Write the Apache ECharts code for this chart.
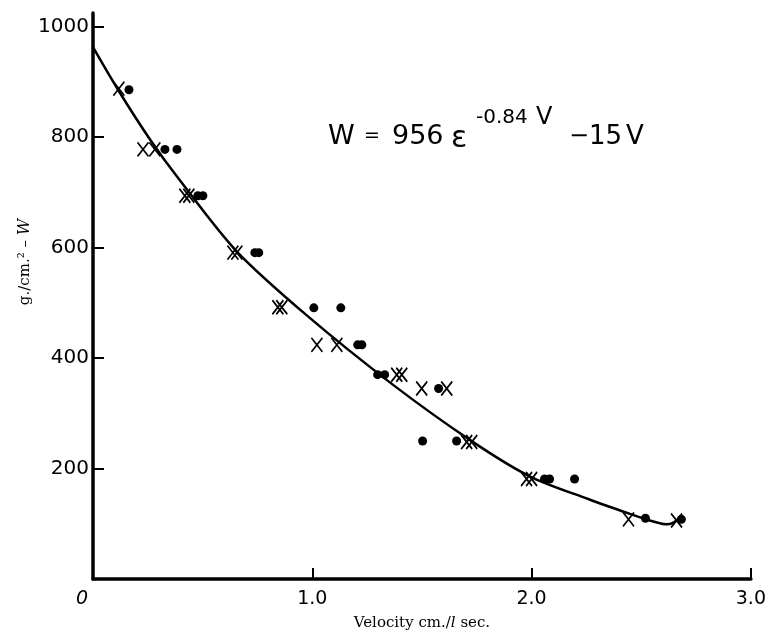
<!DOCTYPE html>
<html><head><meta charset="utf-8">
<script src="https://cdn.jsdelivr.net/npm/echarts@6/dist/echarts.min.js"></script>
<style>html,body{margin:0;padding:0;background:#fff}#c{width:769px;height:636px}</style>
</head><body><div id="c"></div>
<script>
// Crosses (x)
const crossV = [0.118,0.228,0.282,0.419,0.437,0.638,0.656,0.843,0.861,1.021,1.112,1.385,1.408,1.499,1.613,1.704,1.727,1.977,2.000,2.442,2.661];
const crossW = [888,778,778,694,694,591,591,492,492,424,424,370,370,345,345,248,248,181,181,108,106];
// Dots
const dotV = [0.164,0.328,0.383,0.478,0.501,0.738,0.756,1.007,1.130,1.207,1.226,1.298,1.330,1.576,1.503,1.658,2.059,2.082,2.196,2.519,2.683];
const dotW = [886,778,778,694,694,591,591,491,491,424,424,370,370,345,250,250,181,181,181,110,108];
// Fitted curve as drawn
const curveV = [0,0.114,0.260,0.396,0.656,0.979,1.367,1.718,1.991,2.264,2.433,2.538,2.615,2.642,2.665];
const curveW = [963,886,796,722,593,476,352,252,186,144,120,106,99,101,108];
// Axis ticks
const xLabelValues = [0,1,2,3];
const xTickValues = [1,2,3];
const yTickValues = [200,400,600,800,1000];

const zip = (a,b)=>a.map((v,i)=>[v,b[i]]);
const chart = echarts.init(document.getElementById('c'));
const numFont = 'DejaVu Sans';
const t = (text,x,y,size,extra)=>Object.assign({type:'text',x:x,y:y,style:{text:text,fontFamily:numFont,fontSize:size,fill:'#000',verticalAlign:'middle'}},extra||{});
chart.setOption({
  animation:false,
  backgroundColor:'#fff',
  grid:{left:93,right:18,top:13,bottom:53,containLabel:false},
  xAxis:{
    type:'value',min:0,max:3,interval:1,
    axisLine:{lineStyle:{color:'#000',width:3.5}},
    axisTick:{inside:true,length:11,lineStyle:{color:'#000',width:2},customValues:xTickValues},
    axisLabel:{customValues:xLabelValues,color:'#000',fontFamily:numFont,fontSize:19,margin:11,
      formatter:v=>v===0?'{z|0}':v.toFixed(1),
      rich:{z:{fontFamily:numFont,fontSize:19,fontStyle:'italic',padding:[0,22,0,0]}}},
    splitLine:{show:false},
    name:'Velocity cm./{i|l} sec.',nameLocation:'middle',nameGap:37,
    nameTextStyle:{color:'#000',fontFamily:'DejaVu Serif',fontSize:15,
      rich:{i:{fontFamily:'DejaVu Serif',fontSize:15,fontStyle:'italic'}}}
  },
  yAxis:{
    type:'value',min:0,max:1025,interval:200,
    axisLine:{show:true,lineStyle:{color:'#000',width:3.5}},
    axisTick:{show:true,inside:true,length:11,lineStyle:{color:'#000',width:2},customValues:yTickValues},
    axisLabel:{customValues:yTickValues,color:'#000',fontFamily:numFont,fontSize:20,margin:4,formatter:v=>String(v)},
    splitLine:{show:false}
  },
  graphic:[
    {type:'text',x:25,y:262,rotation:Math.PI/2,style:{text:'{a|g./cm.\u00b2 \u2013 }{w|W}',fill:'#000',align:'center',verticalAlign:'middle',
      rich:{a:{fontFamily:'DejaVu Serif',fontSize:15},w:{fontFamily:'DejaVu Serif',fontSize:16,fontStyle:'italic'}}}},
    t('W',328,137,27),
    t('=',364,136,19),
    t('956',392,137,27),
    t('\u03b5',451,139,30),
    t('-0.84',476,118,20),
    t('V',536,118,24),
    t('\u2212',569,137,24),
    t('15',589,137,26),
    t('V',626,137,26)
  ],
  series:[
    {type:'line',data:zip(curveV,curveW),smooth:0.3,symbol:'none',lineStyle:{color:'#000',width:2.5},z:2},
    {type:'scatter',data:zip(crossV,crossW),symbol:'path://M0,0L10,14M10,0L0,14',symbolSize:[11,14],
      itemStyle:{color:'#000',borderColor:'#000',borderWidth:1.8,opacity:1},z:3},
    {type:'scatter',data:zip(dotV,dotW),symbol:'circle',symbolSize:9,itemStyle:{color:'#000',opacity:1},z:3}
  ]
});
</script></body></html>
